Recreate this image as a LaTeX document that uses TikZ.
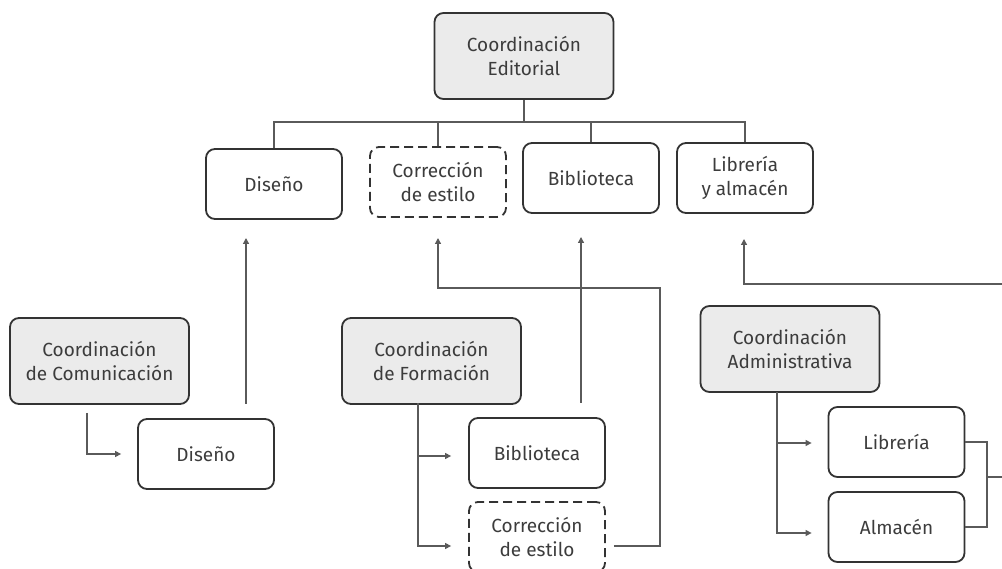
\documentclass[tikz,border=0pt]{standalone}
\usepackage{fontspec}
\setmainfont{Fira Sans}
\usetikzlibrary{arrows.meta,calc}
\definecolor{boxline}{HTML}{333333}
\definecolor{boxfill}{HTML}{EBEBEB}
\definecolor{txt}{HTML}{3C3C3C}
\definecolor{conn}{HTML}{5A5A5A}
\begin{document}
\begin{tikzpicture}[x=1pt,y=-1pt,
  base/.style={draw=boxline, line width=1.8pt, rounded corners=9pt, align=center,
    text=txt, font=\fontsize{19}{24}\selectfont, inner sep=0pt},
  plainbox/.style={base, minimum width=136pt, minimum height=70pt},
  coordbox/.style={base, fill=boxfill, minimum width=179pt, minimum height=86pt},
  dashbox/.style={plainbox, dash pattern=on 9pt off 5pt},
  conline/.style={draw=conn, line width=1.3pt},
  arr/.style={conline, -{Triangle[length=6pt,width=6pt]}}
]
\useasboundingbox (0,0) rectangle (1002,569);
\clip (0,0) rectangle (1002,569);
% top
\node[coordbox] (ce) at (524,56) {Coordinación\\Editorial};
\node[plainbox] (dis1) at (274,184) {Diseño};
\node[dashbox] (cor1) at (438,182) {Corrección\\de estilo};
\node[plainbox] (bib1) at (591,178) {Biblioteca};
\node[plainbox] (lib1) at (745,178) {Librería\\y almacén};
\coordinate (bar) at (524,122);
\draw[conline] (ce.south) -- (bar);
\draw[conline] (dis1.north) |- (bar) -| (lib1.north);
\draw[conline] (cor1.north) -- (cor1.north |- bar);
\draw[conline] (bib1.north) -- (bib1.north |- bar);
% comunicación
\node[coordbox] (cc) at (99.5,361) {Coordinación\\de Comunicación};
\node[plainbox] (dis2) at (206,454) {Diseño};
\coordinate (ccx) at (87,413);
\draw[arr] (ccx) |- ($(dis2.west)+(-16,0)$);
\coordinate (d2up) at (246,404);
\draw[arr] (d2up) -- (246,238);
% formación
\node[coordbox] (cf) at (431.5,361) {Coordinación\\de Formación};
\node[plainbox] (bib2) at (537,453) {Biblioteca};
\node[dashbox] (cor2) at (537,537) {Corrección\\de estilo};
\coordinate (cfx) at (418,403);
\draw[arr] (cfx) |- ($(cor2.west)+(-17,9)$);
\draw[arr] (418,456) -- ($(bib2.west)+(-17,3)$);
\draw[arr] (581,403) -- (581,237);
\draw[arr] ($(cor2.east)+(8,9)$) -- (660,546) -- (660,288) -- (438,288) -- (438,238);
% administrativa
\node[coordbox] (ca) at (790,349) {Coordinación\\Administrativa};
\node[plainbox] (lib2) at (896.5,442) {Librería};
\node[plainbox] (alm2) at (896.5,527) {Almacén};
\coordinate (cax) at (777,392);
\draw[arr] (cax) |- ($(alm2.west)+(-16,6)$);
\draw[arr] (777,443) -- ($(lib2.west)+(-16,1)$);
\draw[conline] (lib2.east) -- (987,442) |- (alm2.east);
\coordinate (jn) at (987,477);
\draw[arr] (jn) -- (1010,477) -- (1010,284) -- (744,284) -- (744,239);
\end{tikzpicture}
\end{document}
